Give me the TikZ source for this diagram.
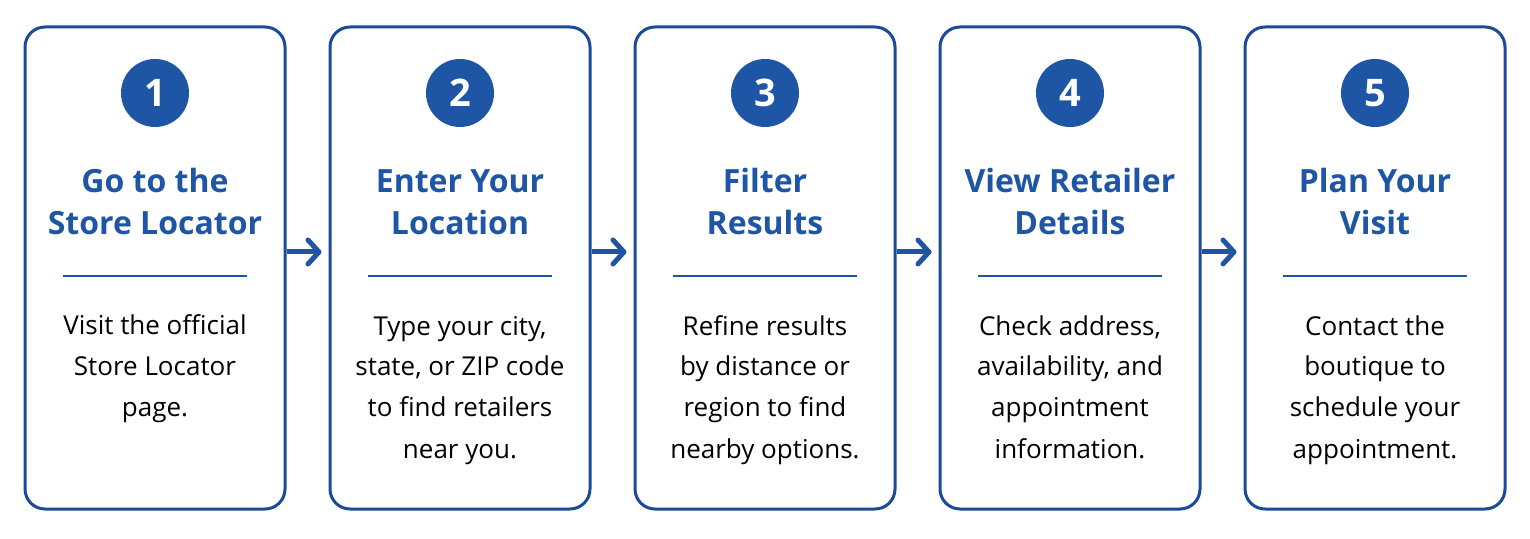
\documentclass[tikz,border=0pt]{standalone}
\usepackage{fontspec}
\usepackage{tikz}
\usepackage{xcolor}
\usetikzlibrary{arrows.meta}
\setmainfont{Open Sans}
\definecolor{framed}{HTML}{1B4B98}
\definecolor{stepblue}{HTML}{1E55A5}

\begin{document}
\begin{tikzpicture}[x=1pt, y=1pt,
  card/.style={draw=framed, line width=3pt, rounded corners=20pt,
    minimum width=260pt, minimum height=482pt},
  badge/.style={circle, fill=stepblue, minimum size=68pt, inner sep=0pt,
    text=white, font=\fontsize{38}{40}\selectfont\bfseries},
  heading/.style={align=center, inner sep=0pt, text=stepblue,
    font=\fontsize{32}{42}\selectfont\bfseries},
  blurb/.style={align=center, inner sep=0pt,
    font=\fontsize{26}{41}\selectfont},
  flow/.style={draw=stepblue, line width=5pt,
    -{Straight Barb[length=11pt, width=24pt, round]}}]
  \useasboundingbox (0,0) rectangle (1530,538);
  % \n = lines of the blurb (its base anchor is the last line)
  \foreach \i/\n/\ttl/\txt in {
      1/3/{Go to the\\Store Locator}/{Visit the official\\Store Locator\\page.},
      2/4/{Enter Your\\Location}/{Type your city,\\state, or ZIP code\\to find retailers\\near you.},
      3/4/{Filter\\Results}/{Refine results\\by distance or\\region to find\\nearby options.},
      4/4/{View Retailer\\Details}/{Check address,\\availability, and\\appointment\\information.},
      5/4/{Plan Your\\Visit}/{Contact the\\boutique to\\schedule your\\appointment.}} {
    \node[card] (box\i) at ({155+(\i-1)*305}, 270) {};
    \node[badge] (num\i) at ({155+(\i-1)*305}, 445) {\i};
    \node[heading, anchor=base] (head\i) at ({155+(\i-1)*305}, 303) {\ttl};
    \draw[stepblue, line width=2.5pt] ({155+(\i-1)*305-92}, 262) -- +(184, 0);
    \node[blurb, anchor=base] (text\i) at ({155+(\i-1)*305}, {203-(\n-1)*41}) {\txt};
  }
  \foreach \i [count=\j from 2] in {1,...,4}
    \draw[flow, shorten >=7pt] ([yshift=16pt]box\i.east) -- ([yshift=16pt]box\j.west);
\end{tikzpicture}
\end{document}
